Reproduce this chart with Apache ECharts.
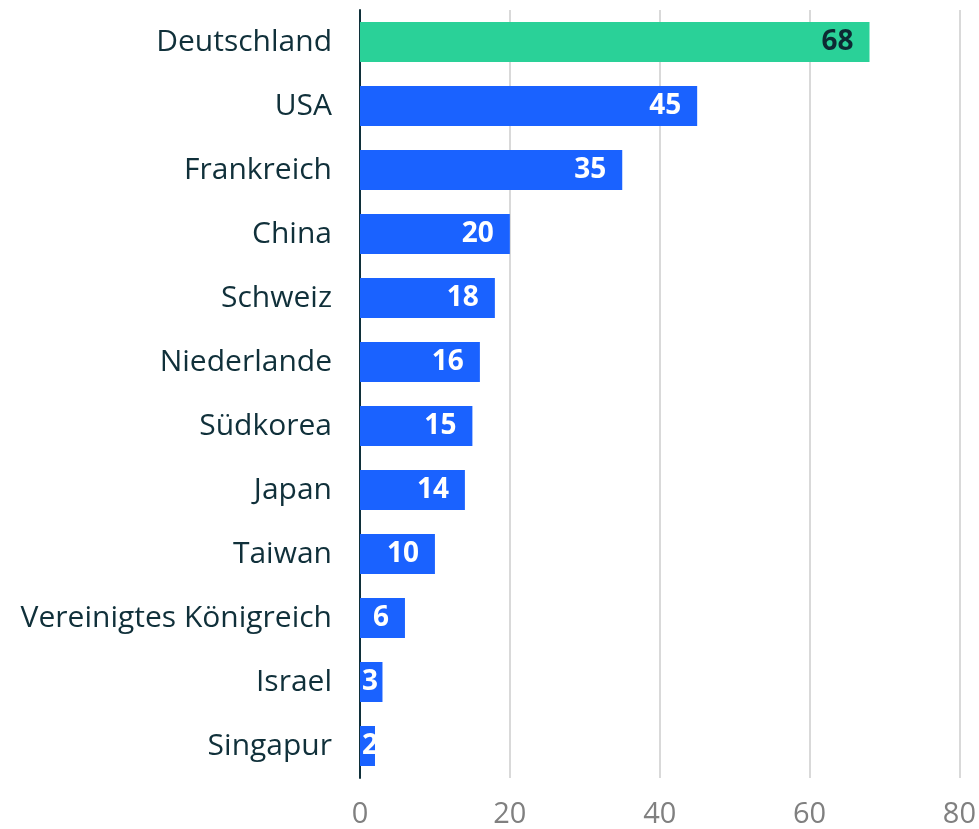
<!DOCTYPE html>
<html>
<head>
<meta charset="utf-8">
<script src="https://cdn.jsdelivr.net/npm/echarts@6/dist/echarts.min.js"></script>
<style>
  html, body { margin: 0; padding: 0; background: #fff; }
  #chart { width: 979px; height: 829px; }
</style>
</head>
<body>
<div id="chart"></div>
<script>
const categories = ["Deutschland", "USA", "Frankreich", "China", "Schweiz", "Niederlande", "Südkorea", "Japan", "Taiwan", "Vereinigtes Königreich", "Israel", "Singapur"];
const values = [68, 45, 35, 20, 18, 16, 15, 14, 10, 6, 3, 2];
const highlight = "Deutschland";

const chart = echarts.init(document.getElementById("chart"));
const font = "'Open Sans', 'Noto Sans', sans-serif";

chart.setOption({
  animation: false,
  grid: { left: 360, right: 19, top: 10, bottom: 51 },
  xAxis: {
    type: "value",
    min: 0,
    max: 80,
    interval: 20,
    axisLine: { show: false },
    axisTick: { show: false },
    splitLine: { lineStyle: { color: "#d9d9d9", width: 2 } },
    axisLabel: { color: "#808080", fontSize: 29, fontFamily: font, margin: 22 }
  },
  yAxis: {
    type: "category",
    inverse: true,
    data: categories,
    axisLine: { show: true, lineStyle: { color: "#10303a", width: 2 } },
    axisTick: { show: false },
    axisLabel: { color: "#10303a", fontSize: 30, fontFamily: font, margin: 28 }
  },
  series: [{
    type: "bar",
    barCategoryGap: "37.5%",
    data: values.map((v, i) => ({
      value: v,
      itemStyle: { color: categories[i] === highlight ? "#2ad198" : "#1a62ff" },
      label: v < 5
        ? { position: "insideLeft", distance: 2, color: "#ffffff" }
        : { color: categories[i] === highlight ? "#0d2a33" : "#ffffff" }
    })),
    label: {
      show: true,
      position: "insideRight",
      distance: 16,
      fontSize: 28,
      fontWeight: "bold",
      fontFamily: font
    }
  }]
});
</script>
</body>
</html>
